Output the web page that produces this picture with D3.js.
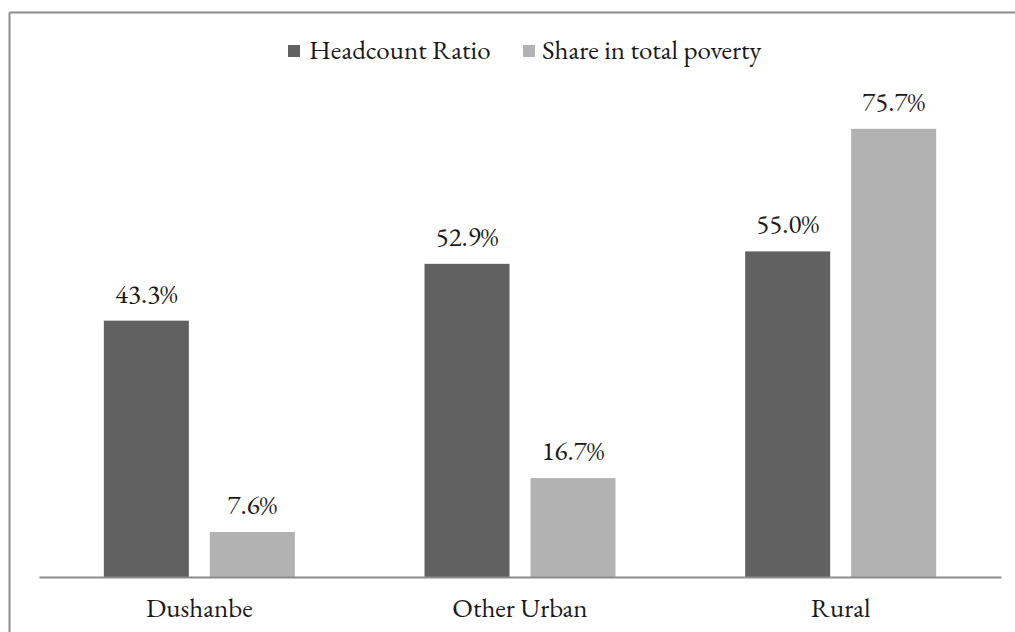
<!DOCTYPE html>
<html>
<head>
<meta charset="utf-8">
<script src="https://cdn.jsdelivr.net/npm/d3@7"></script>
<style>
  html, body { margin: 0; padding: 0; background: #fff; }
  svg { display: block; }
</style>
</head>
<body>
<svg id="chart" width="1015" height="632"></svg>
<script>
const categories = ["Dushanbe", "Other Urban", "Rural"];
const seriesNames = ["Headcount Ratio", "Share in total poverty"];
const headcountRatio = [43.3, 52.9, 55.0];
const shareInPoverty = [7.6, 16.7, 75.7];
const seriesColors = ["#616161", "#b2b2b2"];

const FONT = "'EB Garamond'";
const FS = 27;
const seriesValues = [headcountRatio, shareInPoverty];
const data = categories.map((c, i) => ({
  category: c,
  values: seriesNames.map((s, j) => ({ series: s, value: seriesValues[j][i] }))
}));

const W = 1015, H = 632;
const baseY = 577;
const svg = d3.select("#chart").attr("font-family", FONT);

svg.append("line").attr("x1", 9.5).attr("x2", W).attr("y1", 12.5).attr("y2", 12.5)
  .attr("stroke", "#8c8c8c").attr("stroke-width", 2);
svg.append("line").attr("x1", 9.5).attr("x2", 9.5).attr("y1", 12.5).attr("y2", H)
  .attr("stroke", "#8c8c8c").attr("stroke-width", 2);

const x0 = d3.scaleBand().domain(categories).range([39, 1001])
  .paddingInner(0.4044).paddingOuter(0.2022);
const x1 = d3.scaleBand().domain(seriesNames).range([0, x0.bandwidth()])
  .paddingInner(0.198).paddingOuter(0);
const y = d3.scaleLinear().domain([0, 80]).range([baseY, baseY - 80 * 5.92]);
const color = d3.scaleOrdinal().domain(seriesNames).range(seriesColors);

const groups = svg.append("g").selectAll("g").data(data).join("g")
  .attr("transform", d => `translate(${x0(d.category)},0)`);

groups.selectAll("rect").data(d => d.values).join("rect")
  .attr("x", d => x1(d.series))
  .attr("width", x1.bandwidth())
  .attr("y", d => y(d.value))
  .attr("height", d => y(0) - y(d.value))
  .attr("fill", d => color(d.series));

groups.selectAll("text.lbl").data(d => d.values).join("text")
  .attr("class", "lbl")
  .attr("x", d => x1(d.series) + x1.bandwidth() / 2)
  .attr("y", d => y(d.value) - 18)
  .attr("text-anchor", "middle")
  .attr("font-family", FONT)
  .attr("font-size", FS)
  .attr("fill", "#1a1a1a")
  .text(d => d.value.toFixed(1) + "%");

const xAxis = d3.axisBottom(x0).tickSize(0).tickPadding(0);
const ax = svg.append("g").attr("transform", `translate(0,${baseY})`).call(xAxis)
  .attr("font-family", FONT).attr("font-size", FS);
ax.select(".domain").attr("stroke", "#8c8c8c").attr("stroke-width", 2);
ax.selectAll("text").attr("dy", null).attr("y", 40).attr("fill", "#1a1a1a")
  .attr("font-family", FONT);

const legendItems = [
  { name: seriesNames[0], sx: 288, tx: 309 },
  { name: seriesNames[1], sx: 523, tx: 542 }
];
const lg = svg.append("g");
legendItems.forEach(it => {
  lg.append("rect").attr("x", it.sx).attr("y", 45).attr("width", 12).attr("height", 12)
    .attr("fill", color(it.name));
  lg.append("text").attr("x", it.tx).attr("y", 59).attr("fill", "#1a1a1a")
    .attr("font-family", FONT).attr("font-size", FS).text(it.name);
});
</script>
</body>
</html>
